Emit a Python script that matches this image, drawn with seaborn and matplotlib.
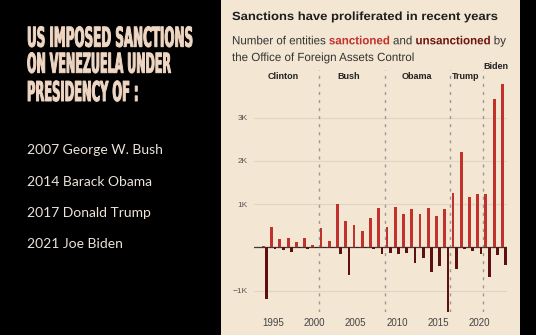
import numpy as np
import pandas as pd
import seaborn as sns
import matplotlib
matplotlib.use("Agg")
import matplotlib.pyplot as plt
from matplotlib.patheffects import AbstractPathEffect
from matplotlib.transforms import Affine2D
from matplotlib.patches import Rectangle

# ---------------- data ----------------
years = list(range(1994, 2024))
sanctioned = [40, 470, 200, 220, 125, 230, 55, 455, 155, 1010,
              620, 515, 390, 680, 905, 480, 935, 775, 880, 780,
              915, 735, 900, 1270, 2210, 1160, 1230, 1230, 3440, 3770]
unsanctioned = [-1180, -30, -55, -95, -15, -25, -15, -10, -5, -160,
                -630, -20, -15, -40, -160, -135, -140, -130, -350, -235,
                -560, -430, -1480, -505, -35, -90, -155, -675, -175, -405]
term_bounds = [2000.5, 2008.5, 2016.5, 2020.5]
presidents = ["Clinton", "Bush", "Obama", "Trump", "Biden"]
president_x = [1996.2, 2004.2, 2012.4, 2018.4, 2022.0]
xtick_years = [1995, 2000, 2005, 2010, 2015, 2020]
ytick_vals = [-1000, 1000, 2000, 3000]
ytick_labels = ["\u22121K", "1K", "2K", "3K"]
headline = ["US IMPOSED SANCTIONS", "ON VENEZUELA UNDER", "PRESIDENCY OF :"]
timeline = ["2007 George W. Bush", "2014 Barack Obama", "2017 Donald Trump", "2021 Joe Biden"]

df = pd.DataFrame({
    "year": years * 2,
    "value": sanctioned + unsanctioned,
    "kind": ["sanctioned"] * len(years) + ["unsanctioned"] * len(years),
})

RED = "#c0322b"
DARK = "#5e1011"
BEIGE = "#f3e6d2"

W, H = 536, 335
fig = plt.figure(figsize=(W / 100, H / 100), dpi=100, facecolor="black")
fig.patches.append(Rectangle((221 / W, 0), 299 / W, 1, transform=fig.transFigure,
                             facecolor=BEIGE, edgecolor="none", zorder=-5))
renderer = fig.canvas.get_renderer()


class StretchY(AbstractPathEffect):
    """Vertically scale text glyph paths about the baseline origin (optional stroke)."""
    def __init__(self, sy, stroke=0.0):
        super().__init__()
        self.sy = sy
        self.stroke = stroke

    def draw_path(self, renderer, gc, tpath, affine, rgbFace=None):
        m = affine.get_matrix()
        x0, y0 = m[0, 2], m[1, 2]
        t = affine + Affine2D().translate(-x0, -y0).scale(1, self.sy).translate(x0, y0)
        if self.stroke > 0:
            gc0 = renderer.new_gc()
            gc0.copy_properties(gc)
            gc0.set_linewidth(self.stroke)
            gc0.set_foreground(rgbFace)
            renderer.draw_path(gc0, tpath, t, rgbFace)
            gc0.restore()
        else:
            renderer.draw_path(gc, tpath, t, rgbFace)


def fit_text(x_px, y_px, s, target_w, fontsize, stroke=0.0, **kw):
    t = fig.text(x_px / W, 1 - y_px / H, s, ha="left", va="baseline",
                 fontsize=fontsize, **kw)
    w = t.get_window_extent(renderer).width
    k = target_w / w
    t.set_fontsize(fontsize * k)
    t.set_path_effects([StretchY(1 / k, stroke)])
    return k


def run_line(x_px, y_px, runs, fontsize, k=None, target_w=None, **kw):
    def measure(fs):
        p1 = fig.text(0, 0, "x x", fontsize=fs, **kw)
        p2 = fig.text(0, 0, "xx", fontsize=fs, **kw)
        sp = p1.get_window_extent(renderer).width - p2.get_window_extent(renderer).width
        p1.remove(); p2.remove()
        return sp
    texts = []
    for s, color, weight in runs:
        t = fig.text(0, 1 - y_px / H, s, ha="left", va="baseline", color=color,
                     fontweight=weight, fontsize=fontsize, **kw)
        texts.append(t)
    if k is None:
        widths = [t.get_window_extent(renderer).width for t in texts]
        total = sum(widths) + measure(fontsize) * (len(runs) - 1)
        k = target_w / total
    for t in texts:
        t.set_fontsize(fontsize * k)
        t.set_path_effects([StretchY(1 / k)])
    space = measure(fontsize * k)
    x = x_px
    for t in texts:
        t.set_x(x / W)
        x += t.get_window_extent(renderer).width + space
    return k


# ---------------- left side text ----------------
for line, base, tw in zip(headline, [46.7, 72.7, 101.0], [166, 144, 111.5]):
    fit_text(27, base, line, tw, 19.7, stroke=0.7, fontweight="bold",
             family="DejaVu Sans", color="#f0d7c3")

for line, base in zip(timeline, [154, 185.5, 217, 248.3]):
    fig.text(27 / W, 1 - base / H, line, ha="left", va="baseline", fontsize=10,
             family="Lato", color="#ece3da")

# ---------------- chart titles ----------------
fit_text(232, 20, "Sanctions have proliferated in recent years", 266, 8.5,
         fontweight="bold", family="Liberation Sans", color="#1e1e1e")
k_sub = run_line(232, 44.3, [("Number of entities", "#333333", "normal"),
                             ("sanctioned", RED, "bold"),
                             ("and", "#333333", "normal"),
                             ("unsanctioned", "#6e1413", "bold"),
                             ("by", "#333333", "normal")],
                 8.5, target_w=274, family="Liberation Sans")
run_line(232, 61, [("the Office of Foreign Assets Control", "#333333", "normal")],
         8.5, k=k_sub, family="Liberation Sans")

# ---------------- bars ----------------
ax = fig.add_axes([253.5 / W, 1 - 312 / H, 253 / W, 242 / H])
ax.set_facecolor("none")
sns.barplot(data=df, x="year", y="value", hue="kind",
            hue_order=["sanctioned", "unsanctioned"],
            palette={"sanctioned": RED, "unsanctioned": DARK},
            native_scale=True, dodge=True, width=0.8, gap=0.15,
            errorbar=None, saturation=1, legend=False, ax=ax, zorder=3)

ax.set_xlim(1992.6, 2023.3)
ax.set_ylim(-1490, 4100)
ax.set_xlabel("")
ax.set_ylabel("")
ax.set_xticks(xtick_years)
ax.set_xticklabels([str(y) for y in xtick_years], family="Liberation Sans")
ax.set_yticks(ytick_vals)
ax.set_yticklabels(ytick_labels, family="Liberation Sans")
ax.tick_params(axis="x", length=0, labelsize=7, pad=4.5, labelcolor="#444444")
ax.tick_params(axis="y", length=0, labelsize=6, pad=4, labelcolor="#555555")
for sp in ax.spines.values():
    sp.set_visible(False)
for v in ytick_vals:
    ax.axhline(v, color="#e0d5c4", lw=0.8, zorder=1)
ax.axhline(0, color="#3a3a3a", lw=0.9, zorder=2)
for b in term_bounds:
    ax.axvline(b, color="#9a9a9a", lw=1.0, ls=(0, (2.2, 3.6)), zorder=1.5)

xt = ax.get_xaxis_transform()
for name, xp in zip(presidents, president_x):
    yp = 1.005 if name == "Biden" else 0.962
    ax.text(xp, yp, name, transform=xt, ha="center", va="baseline", fontsize=6.5,
            fontweight="bold", family="Liberation Sans", color="#222222", clip_on=False)

fig.savefig("out.png", dpi=100, facecolor="black")
